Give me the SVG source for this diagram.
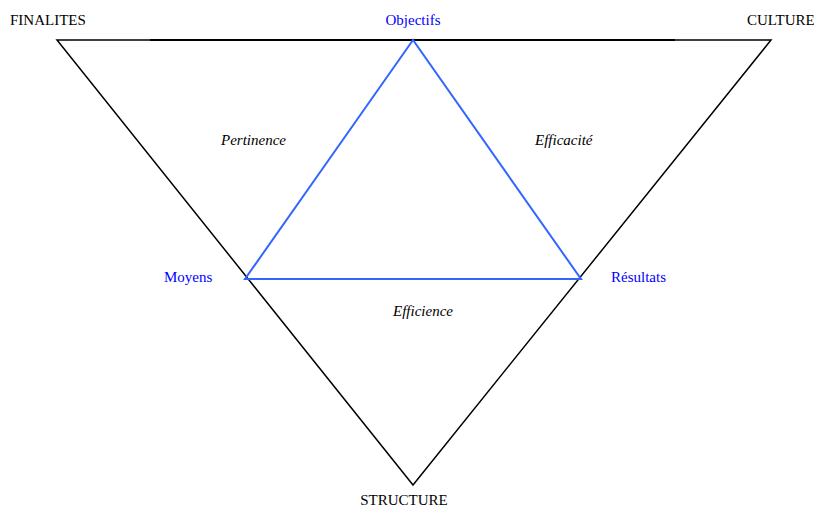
<svg xmlns="http://www.w3.org/2000/svg" width="814" height="508" viewBox="0 0 814 508">
<style>
text{font-family:"Liberation Serif","Times New Roman",serif;font-size:15px}
.k{fill:#000}
.b{fill:#0000ff}
.i{font-style:italic;fill:#000}
.outer{fill:none;stroke:#000;stroke-width:1.5}
.inner{fill:none;stroke:#3366ff;stroke-width:2}
</style>
<rect width="814" height="508" fill="#fff"/>
<g id="connectors">
<path class="outer" d="M57,40 L771,40 L413,485 Z"/>
<line x1="150" y1="40" x2="675" y2="40" stroke="#000" stroke-width="2"/>
<path class="inner" d="M413,40 L245,279 L581,279 Z"/>
</g>
<g id="finalites"><text class="k" x="10" y="25">FINALITES</text></g>
<g id="objectifs"><text class="b" x="413" y="25" text-anchor="middle">Objectifs</text></g>
<g id="culture"><text class="k" x="747" y="25">CULTURE</text></g>
<g id="moyens"><text class="b" x="164" y="282">Moyens</text></g>
<g id="resultats"><text class="b" x="611" y="282">Résultats</text></g>
<g id="structure"><text class="k" x="404" y="505" text-anchor="middle">STRUCTURE</text></g>
<g id="pertinence"><text class="i" x="221" y="145">Pertinence</text></g>
<g id="efficacite"><text class="i" x="535" y="145">Efficacité</text></g>
<g id="efficience"><text class="i" x="393" y="316">Efficience</text></g>
</svg>
